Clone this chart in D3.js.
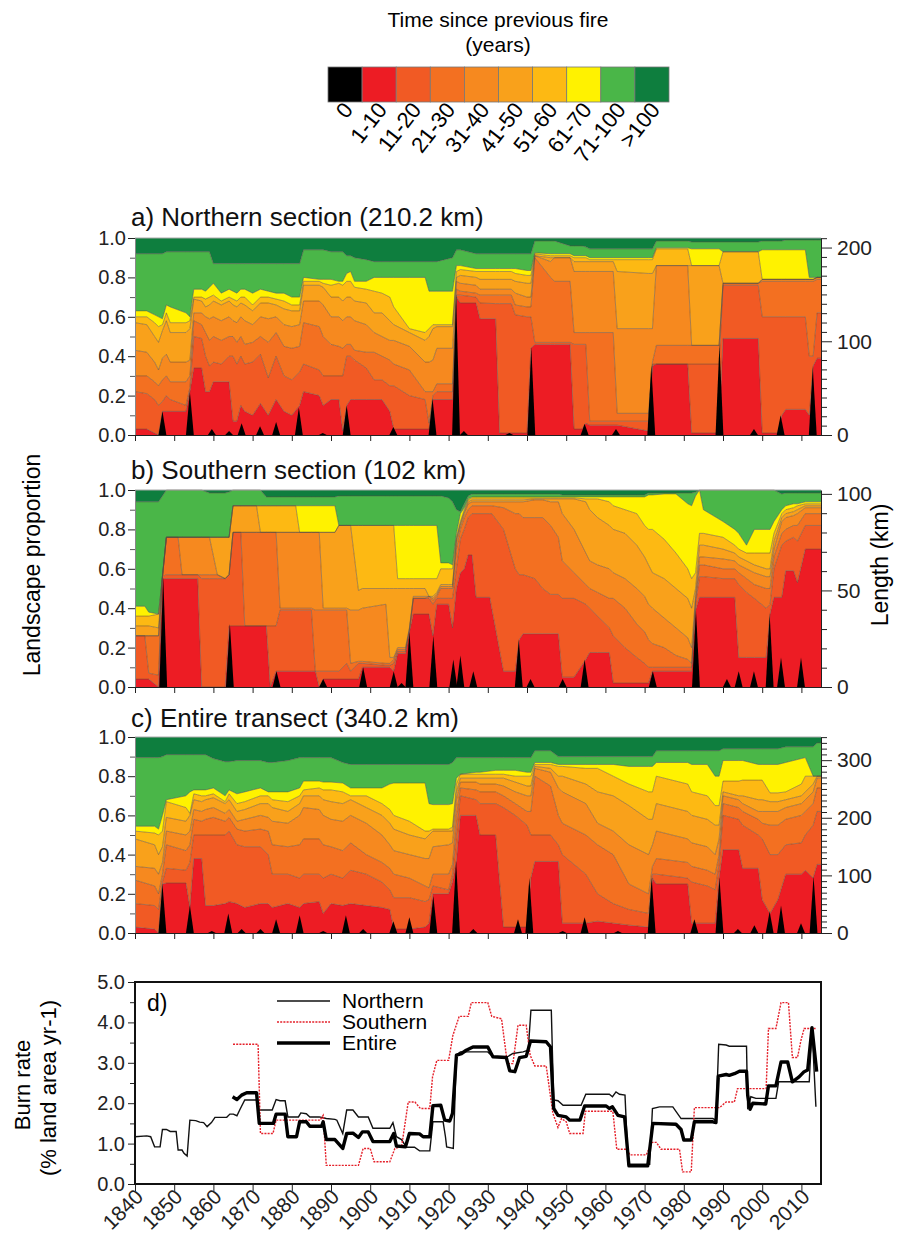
<!DOCTYPE html>
<html>
<head>
<meta charset="utf-8">
<script src="https://cdn.jsdelivr.net/npm/d3@7"></script>
<style>
  body { margin: 0; background: #fff; }
  svg { font-family: "Liberation Sans", Arial, sans-serif; }
</style>
</head>
<body>
<svg id="fig" width="906" height="1239"></svg>
<script>
// ---- legend classes ----
var classLabels = ["0", "1-10", "11-20", "21-30", "31-40", "41-50", "51-60", "61-70", "71-100", ">100"];
var classColors = ["#000000", "#ed1c24", "#f15a24", "#f37021", "#f6891f", "#f9a11b", "#fdb913", "#fff200", "#4ab648", "#0e7e3e"];

// ---- stacked panels: [year, top of 1-10, 11-20, 21-30, 31-40, 41-50, 51-60, 61-70, 71-100] ----
var northRows = [
  [1840,.03,.22,.30,.43,.57,.60,.63,.92],[1843,.03,.21,.30,.42,.56,.60,.63,.92],
  [1845,.01,.18,.27,.37,.50,.57,.61,.92],[1846,.00,.15,.25,.33,.47,.55,.60,.92],
  [1847,.12,.17,.28,.39,.53,.56,.59,.92],[1848,.12,.20,.30,.41,.58,.62,.66,.93],
  [1849,.12,.18,.27,.37,.52,.57,.65,.93],[1853,.12,.15,.27,.37,.52,.57,.62,.93],
  [1854,.22,.24,.30,.38,.54,.58,.60,.93],[1855,.34,.50,.58,.62,.69,.70,.74,.93],
  [1857,.34,.49,.56,.62,.68,.70,.74,.93],[1858,.22,.40,.52,.60,.65,.69,.73,.93],
  [1859,.22,.35,.48,.59,.66,.70,.75,.93],[1860,.27,.37,.50,.60,.68,.71,.77,.87],
  [1862,.27,.36,.48,.58,.66,.68,.72,.87],[1864,.27,.40,.50,.60,.68,.70,.74,.87],
  [1865,.07,.40,.50,.58,.66,.69,.73,.87],[1866,.07,.36,.47,.57,.65,.68,.72,.87],
  [1867,.15,.40,.50,.60,.67,.70,.74,.87],[1868,.12,.36,.46,.58,.66,.70,.74,.87],
  [1870,.10,.37,.47,.56,.63,.66,.72,.87],[1872,.16,.41,.50,.60,.67,.70,.74,.87],
  [1874,.10,.29,.47,.59,.67,.70,.73,.87],[1876,.18,.40,.52,.60,.66,.69,.72,.87],
  [1878,.12,.30,.45,.56,.64,.68,.72,.87],[1880,.10,.28,.44,.55,.63,.66,.70,.87],
  [1882,.15,.32,.45,.56,.63,.66,.70,.87],[1883,.22,.36,.57,.68,.76,.78,.80,.94],
  [1887,.20,.33,.55,.68,.76,.78,.79,.94],[1888,.15,.30,.50,.66,.75,.77,.79,.94],
  [1890,.18,.30,.46,.60,.70,.76,.79,.93],[1892,.18,.30,.45,.60,.70,.77,.78,.93],
  [1893,.02,.30,.44,.58,.68,.76,.78,.93],[1894,.15,.40,.46,.60,.70,.78,.82,.91],
  [1895,.18,.40,.46,.60,.70,.78,.83,.91],[1896,.18,.38,.43,.58,.68,.75,.78,.90],
  [1899,.18,.34,.42,.56,.67,.74,.78,.89],[1901,.18,.28,.42,.52,.62,.73,.80,.88],
  [1903,.18,.28,.40,.50,.62,.72,.80,.88],[1905,.12,.25,.38,.48,.58,.70,.80,.88],
  [1906,.03,.25,.36,.48,.56,.65,.80,.88],[1910,.03,.20,.33,.45,.52,.54,.80,.88],
  [1914,.03,.18,.22,.37,.48,.52,.80,.88],[1915,.03,.06,.22,.37,.50,.54,.73,.88],
  [1916,.18,.20,.22,.38,.54,.56,.73,.88],[1917,.18,.22,.26,.44,.55,.56,.73,.88],
  [1921,.18,.22,.26,.44,.55,.56,.73,.90],[1922,.70,.71,.74,.78,.80,.83,.86,.94],
  [1923,.67,.71,.73,.77,.81,.84,.86,.94],[1927,.67,.70,.72,.76,.80,.83,.845,.92],
  [1928,.59,.67,.71,.74,.79,.83,.845,.92],[1932,.59,.667,.71,.74,.79,.83,.845,.92],
  [1933,.01,.667,.71,.74,.79,.83,.845,.92],[1936,.01,.667,.71,.74,.79,.83,.845,.92],
  [1937,.01,.61,.66,.72,.78,.82,.845,.92],[1940,.01,.60,.65,.70,.77,.81,.835,.92],
  [1941,.44,.60,.65,.70,.77,.81,.835,.92],[1942,.46,.47,.90,.91,.91,.92,.925,.985],
  [1946,.46,.47,.80,.88,.90,.91,.92,.985],[1947,.46,.47,.78,.90,.90,.91,.92,.985],
  [1951,.46,.47,.78,.90,.90,.91,.92,.96],[1952,.03,.46,.52,.83,.88,.90,.91,.96],
  [1954,.03,.46,.52,.83,.88,.90,.91,.96],[1955,.06,.46,.52,.83,.88,.90,.91,.955],
  [1956,.05,.07,.52,.83,.88,.89,.90,.945],[1962,.05,.07,.52,.83,.88,.89,.90,.945],
  [1963,.05,.07,.11,.54,.83,.89,.90,.945],[1971,.02,.07,.11,.54,.82,.89,.90,.945],
  [1972,.35,.36,.37,.54,.82,.89,.90,.945],[1973,.36,.36,.455,.86,.86,.945,.95,.985],
  [1981,.36,.36,.455,.86,.86,.945,.95,.985],[1982,.01,.36,.455,.455,.86,.86,.945,.98],
  [1989,.01,.36,.455,.455,.86,.86,.945,.98],[1990,.49,.76,.77,.77,.77,.93,.93,.98],
  [1999,.49,.76,.77,.77,.77,.93,.93,.98],[2000,.01,.60,.78,.79,.79,.79,.94,.985],
  [2004,.01,.60,.78,.79,.79,.79,.94,.985],[2005,.10,.60,.78,.79,.79,.79,.94,.985],
  [2006,.13,.60,.78,.79,.79,.79,.94,.99],[2011,.13,.60,.78,.79,.79,.79,.94,.99],
  [2012,.10,.40,.78,.79,.79,.79,.80,.99],[2013,.35,.40,.78,.79,.79,.79,.80,.99],
  [2014,.39,.62,.79,.80,.80,.80,.80,.99],[2015,.39,.62,.79,.80,.80,.80,.80,.99]
];
var northFires = [[1847,.12],[1854,.22],[1859.6,.03],[1864,.02],[1867.2,.06],[1871.9,.045],[1876,.066],
  [1881.8,.14],[1887.9,.01],[1894,.15],[1905.9,.04],[1915.9,.185],[1921.9,.71],[1923.9,.02],
  [1935.5,.01],[1941.1,.447],[1954.7,.057],[1962.7,.03],[1971.7,.354],[1989.1,.46],[1997.9,.03],
  [2004.7,.10],[2012.9,.345]];

var southRows = [
  [1840,.04,.26,.26,.26,.31,.36,.41,.94],[1842.5,.04,.26,.26,.26,.31,.36,.41,.94],
  [1843.5,.04,.07,.26,.26,.31,.36,.38,.94],[1846,.00,.06,.26,.26,.30,.37,.37,.94],
  [1847,.55,.56,.56,.56,.56,.56,.56,.97],[1848,.55,.57,.76,.76,.76,.76,.76,1],
  [1851,.55,.57,.76,.76,.76,.76,.76,1],[1852,.55,.57,.57,.76,.76,.76,.76,1],
  [1856,.55,.57,.57,.76,.76,.76,.76,1],[1857,.00,.55,.57,.76,.76,.76,.76,1],
  [1859,.00,.55,.57,.76,.76,.76,.76,.985],[1861,.00,.55,.57,.57,.76,.76,.76,.985],
  [1863,.00,.55,.55,.55,.76,.76,.76,.985],[1864,.31,.57,.57,.57,.76,.76,.76,.99],
  [1865,.31,.785,.785,.785,.92,.92,.92,1],[1867,.31,.785,.785,.785,.92,.92,.92,1],
  [1868,.31,.31,.785,.785,.92,.92,.92,1],[1871,.31,.31,.785,.785,.92,.92,.92,1],
  [1872,.31,.31,.785,.785,.785,.92,.92,1],[1873.5,.31,.31,.785,.785,.785,.92,.92,.965],
  [1874.5,.00,.31,.785,.785,.785,.92,.92,.965],[1876,.08,.31,.785,.785,.785,.92,.92,.965],
  [1877,.08,.39,.40,.785,.785,.92,.92,.965],[1881,.08,.39,.40,.785,.785,.92,.92,.965],
  [1882,.08,.39,.40,.785,.785,.785,.92,.965],[1885,.08,.39,.40,.785,.785,.785,.92,.965],
  [1886,.08,.08,.39,.785,.785,.785,.92,.965],[1887,.00,.08,.39,.785,.785,.785,.92,.965],
  [1888,.04,.08,.39,.40,.785,.785,.92,.965],[1891,.04,.08,.39,.40,.785,.785,.92,.965],
  [1892,.04,.08,.39,.40,.82,.82,.82,.97],[1894,.04,.12,.39,.40,.82,.82,.82,.97],
  [1895,.04,.08,.12,.39,.82,.82,.82,.97],[1897,.04,.12,.13,.39,.49,.82,.82,.97],
  [1898,.10,.12,.13,.40,.50,.82,.82,.97],[1904,.10,.11,.12,.42,.50,.82,.82,.97],
  [1905,.10,.11,.12,.15,.50,.82,.82,.97],[1906,.08,.12,.14,.15,.50,.82,.82,.97],
  [1907,.17,.18,.19,.20,.50,.55,.82,.97],[1909,.17,.18,.19,.20,.50,.55,.82,.97],
  [1910,.28,.29,.29,.30,.50,.55,.82,.97],[1911,.37,.45,.45,.46,.50,.55,.82,.97],
  [1914,.37,.45,.45,.46,.50,.55,.82,.97],[1915,.37,.45,.46,.46,.46,.55,.82,.97],
  [1916,.26,.42,.44,.45,.46,.55,.82,.97],[1917,.42,.45,.46,.47,.48,.55,.82,.97],
  [1918,.42,.45,.50,.51,.52,.60,.63,.97],[1920,.42,.45,.50,.51,.52,.60,.63,.96],
  [1921,.30,.45,.50,.51,.52,.60,.62,.94],[1922,.50,.60,.70,.74,.75,.76,.78,.90],
  [1923,.58,.75,.80,.82,.83,.84,.88,.89],[1924,.60,.80,.86,.88,.89,.90,.91,.93],
  [1925,.67,.86,.90,.93,.94,.95,.955,.97],[1926,.67,.88,.92,.94,.95,.96,.965,.98],
  [1927,.455,.88,.92,.94,.95,.96,.965,.98],[1930.5,.455,.88,.92,.94,.95,.96,.965,.98],
  [1931,.40,.88,.92,.94,.95,.96,.965,.98],[1934,.08,.80,.91,.94,.95,.96,.965,.98],
  [1937,.08,.60,.88,.94,.95,.96,.965,.98],[1938,.24,.57,.88,.94,.95,.96,.965,.98],
  [1939,.27,.57,.86,.94,.95,.96,.965,.98],[1942,.27,.55,.86,.95,.955,.96,.965,.98],
  [1944,.27,.50,.86,.95,.955,.96,.965,.98],[1946,.27,.47,.82,.94,.955,.96,.965,.98],
  [1948,.27,.47,.76,.94,.955,.96,.965,.98],[1949,.05,.45,.64,.88,.955,.96,.965,.975],
  [1952,.05,.45,.58,.80,.955,.96,.965,.975],[1955,.14,.42,.52,.68,.94,.955,.965,.975],
  [1956,.175,.40,.50,.64,.90,.955,.965,.975],[1958,.175,.36,.48,.62,.86,.955,.965,.975],
  [1961,.175,.30,.45,.60,.82,.94,.965,.975],[1962,.02,.26,.45,.58,.80,.92,.965,.975],
  [1965,.02,.20,.40,.55,.78,.90,.965,.975],[1968,.02,.15,.32,.50,.72,.88,.965,.975],
  [1970,.02,.12,.28,.46,.66,.82,.965,.975],[1971,.02,.10,.24,.42,.62,.80,.975,.985],
  [1972,.08,.10,.22,.40,.58,.80,.975,.985],[1975,.08,.10,.20,.35,.55,.75,.98,.985],
  [1978,.08,.10,.16,.30,.50,.68,.98,.985],[1981,.08,.10,.14,.25,.45,.60,.93,.985],
  [1982,.08,.10,.12,.20,.40,.55,.92,.985],[1983,.39,.42,.44,.46,.50,.58,.97,.99],
  [1984,.455,.56,.62,.66,.72,.78,1,1],[1985,.455,.56,.62,.66,.72,.78,.90,1],
  [1990,.455,.55,.60,.65,.70,.76,.84,1],[1993,.455,.55,.60,.64,.68,.72,.80,1],
  [1994,.15,.52,.58,.62,.66,.70,.78,1],[1996,.15,.48,.55,.60,.64,.68,.72,1],
  [1998,.15,.45,.52,.58,.62,.68,.80,1],[2001,.15,.40,.50,.56,.60,.68,.80,1],
  [2002,.37,.42,.50,.56,.60,.68,.80,1],[2003,.455,.60,.66,.70,.74,.78,.84,1],
  [2005,.455,.72,.78,.84,.86,.88,.90,.98],[2006,.59,.74,.80,.86,.88,.90,.92,.985],
  [2008,.59,.76,.82,.87,.89,.91,.93,.985],[2009,.53,.74,.82,.88,.90,.92,.93,.985],
  [2011,.70,.82,.88,.91,.92,.93,.94,.985],[2015,.70,.82,.88,.91,.92,.93,.94,.985]
];
var southFires = [[1847.2,.557],[1864.2,.32],[1876.1,.08],[1888,.04],[1898.2,.10],[1906,.08],[1908,.02],
  [1910,.28],[1916.1,.26],[1921.2,.14],[1923,.16],[1926.3,.08],[1937.9,.24],[1940.9,.04],[1949.1,.04],
  [1954.7,.14],[1972.1,.08],[1983.1,.39],[1991,.04],[1994,.08],[1997.9,.08],[2001.9,.37],
  [2004.8,.15],[2009.9,.15]];

var entireRows = [
  [1840,.03,.15,.27,.34,.48,.52,.545,.895],[1845,.02,.14,.24,.33,.45,.51,.545,.895],
  [1846,.00,.12,.20,.30,.40,.50,.53,.895],[1847,.25,.26,.30,.36,.44,.52,.60,.90],
  [1848,.255,.33,.45,.52,.59,.67,.68,.91],[1853,.255,.32,.42,.50,.57,.64,.70,.91],
  [1854,.13,.36,.45,.52,.60,.61,.72,.91],[1855,.38,.50,.58,.63,.68,.71,.73,.91],
  [1857,.38,.50,.57,.62,.67,.70,.73,.91],[1858,.14,.50,.58,.63,.68,.70,.73,.91],
  [1860,.14,.50,.59,.64,.69,.71,.74,.89],[1863,.15,.50,.57,.61,.66,.67,.70,.874],
  [1864,.16,.52,.59,.63,.68,.71,.73,.874],[1866,.15,.45,.53,.57,.62,.66,.71,.88],
  [1868,.13,.44,.52,.58,.63,.67,.72,.88],[1872,.15,.44,.53,.60,.66,.70,.74,.88],
  [1874,.15,.40,.52,.59,.66,.70,.72,.87],[1875,.13,.30,.45,.57,.64,.68,.72,.87],
  [1879,.15,.30,.44,.56,.62,.67,.72,.88],[1882,.13,.28,.45,.60,.66,.70,.74,.895],
  [1883,.15,.30,.48,.64,.70,.73,.775,.895],[1887,.16,.30,.48,.63,.70,.74,.775,.895],
  [1888,.10,.28,.45,.60,.68,.73,.77,.895],[1890,.15,.30,.44,.58,.67,.73,.77,.895],
  [1893,.14,.28,.42,.57,.66,.72,.765,.87],[1895,.15,.32,.46,.60,.68,.70,.74,.86],
  [1899,.14,.30,.40,.56,.64,.70,.74,.86],[1903,.13,.26,.36,.50,.60,.66,.74,.86],
  [1905,.12,.22,.33,.45,.56,.63,.76,.86],[1906,.02,.18,.30,.42,.53,.60,.765,.86],
  [1910,.02,.18,.28,.40,.50,.57,.765,.86],[1914,.03,.16,.24,.38,.48,.52,.765,.86],
  [1915,.05,.17,.23,.38,.50,.52,.66,.86],[1916,.20,.24,.30,.44,.52,.53,.655,.86],
  [1920,.20,.22,.30,.45,.52,.53,.655,.86],[1921,.26,.30,.35,.46,.52,.54,.66,.87],
  [1922,.37,.50,.60,.68,.72,.76,.79,.895],[1923,.60,.70,.74,.77,.79,.81,.81,.895],
  [1927,.60,.68,.73,.77,.79,.81,.82,.895],[1928,.50,.66,.72,.76,.79,.81,.82,.895],
  [1932,.50,.66,.72,.76,.79,.81,.83,.895],[1934,.03,.64,.70,.75,.79,.81,.83,.895],
  [1937,.03,.60,.66,.72,.77,.80,.83,.895],[1940,.03,.55,.62,.70,.75,.80,.82,.895],
  [1941,.28,.50,.62,.70,.75,.80,.82,.895],[1942,.365,.50,.80,.84,.85,.86,.87,.93],
  [1946,.365,.50,.75,.82,.84,.86,.87,.93],[1948,.365,.45,.60,.74,.80,.85,.86,.90],
  [1949,.05,.40,.56,.72,.80,.85,.86,.90],[1955,.05,.30,.50,.66,.76,.84,.86,.90],
  [1958,.06,.20,.45,.56,.72,.84,.86,.90],[1962,.05,.15,.40,.52,.70,.80,.86,.90],
  [1966,.04,.12,.25,.45,.65,.76,.85,.90],[1971,.03,.10,.20,.40,.58,.72,.85,.90],
  [1972,.28,.30,.34,.45,.58,.72,.85,.90],[1973,.25,.30,.38,.52,.66,.80,.87,.93],
  [1981,.25,.28,.36,.48,.62,.76,.87,.93],[1982,.05,.26,.34,.46,.60,.72,.86,.93],
  [1986,.05,.24,.32,.44,.58,.70,.86,.93],[1988,.05,.22,.30,.40,.55,.65,.80,.93],
  [1989,.28,.35,.40,.48,.55,.65,.80,.93],[1990,.425,.60,.66,.70,.72,.775,.88,.94],
  [1994,.425,.58,.64,.68,.70,.775,.88,.94],[1995,.33,.55,.62,.66,.70,.78,.88,.94],
  [1999,.33,.50,.58,.62,.68,.78,.86,.94],[2000,.17,.48,.56,.62,.68,.78,.86,.94],
  [2002,.10,.40,.55,.62,.67,.715,.86,.94],[2004,.17,.40,.55,.62,.67,.715,.86,.94],
  [2006,.30,.45,.58,.64,.68,.72,.87,.95],[2010,.30,.46,.60,.66,.70,.76,.89,.95],
  [2011,.32,.50,.62,.68,.72,.80,.895,.95],[2013,.28,.55,.66,.72,.76,.80,.80,.95],
  [2014,.35,.62,.74,.79,.80,.80,.80,.97],[2015,.35,.62,.74,.79,.80,.80,.80,.97]
];
var entireFires = [[1847,.25],[1854,.14],[1859.6,.01],[1863.8,.10],[1867.2,.02],[1872,.02],[1876,.07],
  [1882,.09],[1888,.01],[1893.8,.09],[1898.2,.02],[1905.9,.06],[1910,.08],[1916.1,.19],[1921.9,.37],
  [1926.3,.02],[1937.7,.07],[1940.6,.28],[1949.1,.01],[1954.7,.08],[1963.2,.01],[1971.8,.28],
  [1982.7,.07],[1989.1,.28],[1993.8,.02],[1998,.04],[2001.9,.11],[2004.8,.14],[2009.9,.05],[2013.1,.29]];

// ---- burn rate (% land area per year) ----
var northRate = [[1840,1.17],[1843,1.19],[1844,1.17],[1845,0.92],[1846.4,0.92],[1847,1.35],[1848,1.35],
  [1849,1.30],[1850.5,1.30],[1851,0.84],[1852,0.84],[1852.5,0.76],[1853.3,0.69],[1854,1.58],[1855.5,1.57],
  [1856.5,1.53],[1857.5,1.52],[1858.4,1.42],[1859.5,1.52],[1860.4,1.65],[1863.4,1.65],[1864.2,1.73],
  [1865.1,1.73],[1866,1.69],[1866.8,1.85],[1868,2.08],[1871,2.08],[1871.7,1.83],[1875,1.83],[1876,2.09],
  [1877,2.06],[1878.3,2.06],[1879,1.66],[1881.7,1.66],[1882.3,1.76],[1883.7,1.74],[1884.6,1.66],[1887,1.66],
  [1888.8,1.62],[1891,1.60],[1891.5,1.58],[1893,1.25],[1894,1.83],[1895.6,1.83],[1897,1.66],[1899.5,1.66],
  [1900.7,1.38],[1905,1.38],[1905.8,1.52],[1906.7,1.17],[1908,1.10],[1909.2,0.91],[1911.3,0.91],
  [1912.6,0.82],[1915.2,0.82],[1916,1.54],[1918.6,1.54],[1919.2,1.17],[1919.5,0.92],[1921.2,0.88],
  [1922,3.19],[1923,3.27],[1930,3.27],[1931.3,3.15],[1935,3.15],[1936.4,3.23],[1939,3.27],[1940.3,3.31],
  [1941,4.30],[1946.2,4.30],[1946.8,2.08],[1947.9,2.06],[1949.2,1.95],[1953.8,1.95],[1955,2.22],[1961,2.22],
  [1961.8,2.16],[1962.7,2.28],[1963.6,2.22],[1965,2.20],[1965.8,0.49],[1971.3,0.49],[1972,1.87],
  [1973.8,1.91],[1977.2,1.91],[1979.3,1.62],[1987.4,1.62],[1988.2,1.58],[1988.9,3.46],[1990.8,3.44],
  [1991.6,3.41],[1996,3.41],[1996.3,1.85],[1997.1,2.16],[1998.4,2.12],[2003.5,2.12],[2004.2,2.53],
  [2012,2.53],[2012.7,3.87],[2013.7,1.91]];
var southRate = [[1865,3.46],[1871.4,3.46],[1872,1.25],[1875.2,1.25],[1876,1.58],[1887.2,1.58],[1888,1.70],
  [1888.8,0.46],[1897,0.46],[1898.2,0.88],[1900,0.88],[1901,0.55],[1905,0.55],[1906.3,0.88],[1908,0.92],
  [1909.7,2.03],[1911.4,2.03],[1912.8,1.87],[1915.2,1.87],[1915.9,2.65],[1917,3.06],[1920,3.06],
  [1921.1,3.68],[1922.7,4.15],[1925,4.15],[1925.8,4.49],[1930,4.49],[1931,4.15],[1933.5,4.09],[1935,2.98],
  [1936.4,2.98],[1937.7,3.93],[1939.8,3.93],[1940.8,3.19],[1942,2.92],[1944.9,2.92],[1946.6,1.75],
  [1947.9,1.40],[1948.8,1.62],[1950,1.54],[1950.9,1.25],[1954.3,1.25],[1954.9,1.80],[1961.9,1.80],
  [1962.9,0.86],[1965.3,0.86],[1966.3,0.72],[1970.4,0.72],[1971.9,1.03],[1973,1.03],[1974.2,0.86],
  [1978.9,0.86],[1979.7,0.30],[1981.9,0.30],[1982.7,1.89],[1989.1,1.89],[1990.8,2.03],[1992.9,2.03],
  [1993.7,2.36],[2001,2.36],[2001.6,3.85],[2003.5,3.85],[2004.8,4.49],[2006.7,4.49],[2007.7,3.13],
  [2009,3.13],[2009.9,3.56],[2010.7,3.85],[2013.7,3.85]];
var entireRate = [[1864.9,2.16],[1866,2.09],[1867.2,2.20],[1868.5,2.26],[1871,2.26],[1871.7,1.50],
  [1875.3,1.50],[1876,1.73],[1878.3,1.73],[1879,1.17],[1881.2,1.17],[1882,1.54],[1883.7,1.54],[1884.6,1.43],
  [1887.6,1.43],[1888,1.54],[1888.8,1.10],[1891,1.10],[1893,0.88],[1894,1.25],[1895.6,1.26],[1897,1.15],
  [1898,1.29],[1899.5,1.29],[1900.7,1.05],[1905,1.05],[1906,1.25],[1906.7,0.94],[1909,0.92],[1910,1.25],
  [1912.6,1.24],[1913.5,1.17],[1915.2,1.17],[1916,1.94],[1918,1.95],[1919,1.58],[1920.3,1.56],[1921,1.75],
  [1922,3.19],[1923.3,3.23],[1924.5,3.31],[1926.2,3.39],[1930,3.39],[1931.3,3.15],[1934.7,3.13],
  [1935.6,2.80],[1936.9,2.78],[1938.1,3.13],[1939.8,3.16],[1940.9,3.54],[1944.9,3.52],[1946,3.39],
  [1946.8,1.87],[1947.9,1.70],[1950,1.66],[1950.9,1.58],[1953.5,1.58],[1954.7,1.93],[1960.2,1.93],
  [1961,1.87],[1961.8,1.91],[1963.2,1.70],[1964.9,1.66],[1966,0.45],[1970.8,0.45],[1972.1,1.50],
  [1978,1.48],[1979.3,1.35],[1980,1.09],[1981.9,1.09],[1982.7,1.54],[1987.4,1.54],[1988.2,1.52],
  [1988.8,2.67],[1990.8,2.71],[1991.6,2.69],[1992.9,2.73],[1994.2,2.79],[1996,2.79],[1996.3,2.20],
  [1996.9,1.85],[1997.6,2.00],[2000.9,1.98],[2001.6,2.43],[2003.5,2.43],[2004.8,3.02],[2006.5,3.02],
  [2007.7,2.53],[2009.4,2.65],[2010.7,2.78],[2011.6,2.82],[2012.7,3.87],[2013.9,2.78]];

// ---- tick labels ----
var yearTicks = d3.range(1840, 2011, 10);
var propTicks = [0, 0.2, 0.4, 0.6, 0.8, 1.0];
var rateTicks = [0, 1, 2, 3, 4, 5];

var svg = d3.select("#fig");
var x = d3.scaleLinear().domain([1840, 2015]).range([135, 821]);

// ---------- legend ----------
var leg = svg.append("g");
leg.append("text").attr("x", 498).attr("y", 27).attr("text-anchor", "middle")
  .attr("font-size", 21).text("Time since previous fire");
leg.append("text").attr("x", 498).attr("y", 52).attr("text-anchor", "middle")
  .attr("font-size", 21).text("(years)");
var band = d3.scaleBand().domain(classLabels).range([328, 669]);
leg.selectAll("rect").data(classLabels).enter().append("rect")
  .attr("x", function(d){ return band(d); })
  .attr("y", 67).attr("width", band.bandwidth()).attr("height", 35)
  .attr("fill", function(d, i){ return classColors[i]; })
  .attr("stroke", "#777").attr("stroke-width", 0.8);
leg.selectAll("text.cl").data(classLabels).enter().append("text")
  .attr("class", "cl")
  .attr("transform", function(d){ return "translate(" + (band(d) + band.bandwidth() / 2 + 9) + ",110) rotate(-52)"; })
  .attr("text-anchor", "end").attr("font-size", 22).text(function(d){ return d; });

// ---------- stacked panels ----------
var panels = [
  { rows: northRows, fires: northFires, km: 210.2, kmLabels: [0, 100, 200], top: 238, bottom: 435, title: "a) Northern section (210.2 km)", ty: 226 },
  { rows: southRows, fires: southFires, km: 102, kmLabels: [0, 50, 100], top: 490, bottom: 687, title: "b) Southern section (102 km)", ty: 479 },
  { rows: entireRows, fires: entireFires, km: 340.2, kmLabels: [0, 100, 200, 300], top: 737, bottom: 933, title: "c) Entire transect (340.2 km)", ty: 727 }
];

function styleAxis(sel, size) {
  sel.attr("font-size", size).attr("font-family", null);
  sel.selectAll("text").attr("fill", "#222");
  sel.selectAll("line").attr("stroke", "#222");
}

panels.forEach(function(p) {
  var y = d3.scaleLinear().domain([0, 1]).range([p.bottom, p.top]);
  var g = svg.append("g");

  for (var k = 1; k <= 9; k++) {
    (function(k) {
      var area = d3.area()
        .x(function(d){ return x(d[0]); })
        .y0(function(d){ return y(k === 1 ? 0 : d[k - 1]); })
        .y1(function(d){ return y(k === 9 ? 1 : d[k]); });
      g.append("path").datum(p.rows).attr("d", area).attr("fill", classColors[k]);
    })(k);
  }
  for (var k = 1; k <= 8; k++) {
    (function(k) {
      var line = d3.line().x(function(d){ return x(d[0]); }).y(function(d){ return y(d[k]); });
      g.append("path").datum(p.rows).attr("d", line)
        .attr("fill", "none").attr("stroke", "#5a4a40").attr("stroke-width", 0.6).attr("opacity", 0.85);
    })(k);
  }
  // black spikes: fire years (burned this year), zero the years either side
  p.fires.forEach(function(f) {
    var pts = [[f[0] - 1, 0], [f[0], f[1]], [f[0] + 1, 0]];
    g.append("path").datum(pts)
      .attr("d", d3.area().x(function(d){ return x(d[0]); }).y0(y(0)).y1(function(d){ return y(d[1]); }))
      .attr("fill", "#000");
  });

  g.append("line").attr("x1", 135).attr("x2", 821).attr("y1", p.top).attr("y2", p.top)
    .attr("stroke", "#aaa").attr("stroke-width", 1);

  // left axis
  var ax = g.append("g").attr("transform", "translate(135,0)")
    .call(d3.axisLeft(y).tickValues(propTicks).tickFormat(d3.format(".1f")).tickSize(7).tickPadding(2));
  ax.select(".domain").attr("stroke", "#888");
  styleAxis(ax, 20);
  var axm = g.append("g").attr("transform", "translate(135,0)")
    .call(d3.axisLeft(y).tickValues(d3.range(0.1, 1, 0.2)).tickFormat("").tickSize(5));
  axm.select(".domain").remove();
  axm.selectAll("line").attr("stroke", "#555");

  // bottom axis
  var bx = g.append("g").attr("transform", "translate(0," + p.bottom + ")")
    .call(d3.axisBottom(x).tickValues(yearTicks).tickFormat("").tickSize(6).tickSizeOuter(0));
  bx.select(".domain").attr("stroke", "#222");
  bx.selectAll("line").attr("stroke", "#222");

  // right axis (km)
  var yk = d3.scaleLinear().domain([0, p.km]).range([p.bottom, p.top]);
  var rx = g.append("g").attr("transform", "translate(821,0)")
    .call(d3.axisRight(yk).tickValues(p.kmLabels).tickFormat(d3.format("d")).tickSize(11).tickPadding(5).tickSizeOuter(0));
  rx.select(".domain").attr("stroke", "#222");
  styleAxis(rx, 21);
  var rxm = g.append("g").attr("transform", "translate(821,0)")
    .call(d3.axisRight(yk).tickValues(d3.range(10, p.km, 10).filter(function(v){ return p.kmLabels.indexOf(v) < 0; }))
      .tickFormat("").tickSize(6));
  rxm.select(".domain").remove();
  rxm.selectAll("line").attr("stroke", "#222");

  g.append("text").attr("x", 131).attr("y", p.ty).attr("font-size", 26).attr("fill", "#111").text(p.title);
});

svg.append("text").attr("transform", "translate(40,565) rotate(-90)").attr("text-anchor", "middle")
  .attr("font-size", 23).text("Landscape proportion");
svg.append("text").attr("transform", "translate(888,565) rotate(-90)").attr("text-anchor", "middle")
  .attr("font-size", 23).text("Length (km)");

// ---------- panel d: burn rate ----------
var yr = d3.scaleLinear().domain([0, 5]).range([1184, 982]);
var gd = svg.append("g");
var lineR = d3.line().x(function(d){ return x(d[0]); }).y(function(d){ return yr(d[1]); });

gd.append("path").datum(northRate).attr("d", lineR).attr("fill", "none")
  .attr("stroke", "#111").attr("stroke-width", 1.4);
gd.append("path").datum(southRate).attr("d", lineR).attr("fill", "none")
  .attr("stroke", "#e5202a").attr("stroke-width", 1.4).attr("stroke-dasharray", "2,1.2");
gd.append("path").datum(entireRate).attr("d", lineR).attr("fill", "none")
  .attr("stroke", "#000").attr("stroke-width", 3.4).attr("stroke-linejoin", "round");

var dax = gd.append("g").attr("transform", "translate(135,0)")
  .call(d3.axisLeft(yr).tickValues(rateTicks).tickFormat(d3.format(".1f")).tickSize(7).tickPadding(3));
dax.select(".domain").remove();
styleAxis(dax, 20);
var daxm = gd.append("g").attr("transform", "translate(135,0)")
  .call(d3.axisLeft(yr).tickValues(d3.range(0.5, 5, 1)).tickFormat("").tickSize(5));
daxm.select(".domain").remove();
daxm.selectAll("line").attr("stroke", "#222");

var dbx = gd.append("g").attr("transform", "translate(0,1184)")
  .call(d3.axisBottom(x).tickValues(yearTicks).tickFormat(d3.format("d")).tickSize(7));
dbx.select(".domain").remove();
styleAxis(dbx, 21);
dbx.selectAll("text").attr("text-anchor", "end").attr("dy", null).attr("y", 0)
  .attr("transform", "translate(9,14) rotate(-45)");

gd.append("rect").attr("x", 135).attr("y", 982).attr("width", 686).attr("height", 202)
  .attr("fill", "none").attr("stroke", "#111").attr("stroke-width", 2);
gd.append("text").attr("x", 147).attr("y", 1011).attr("font-size", 23).text("d)");

var legItems = [["Northern", "#111", 1.4, null, 1001], ["Southern", "#e5202a", 1.4, "2,1.2", 1022], ["Entire", "#000", 3.4, null, 1043]];
legItems.forEach(function(l) {
  gd.append("line").attr("x1", 277).attr("x2", 330).attr("y1", l[4]).attr("y2", l[4])
    .attr("stroke", l[1]).attr("stroke-width", l[2]).attr("stroke-dasharray", l[3]);
  gd.append("text").attr("x", 342).attr("y", l[4] + 7).attr("font-size", 21).text(l[0]);
});

svg.append("text").attr("transform", "translate(30,1085) rotate(-90)").attr("text-anchor", "middle")
  .attr("font-size", 22).text("Burn rate");
svg.append("text").attr("transform", "translate(56,1088) rotate(-90)").attr("text-anchor", "middle")
  .attr("font-size", 22).text("(% land area yr-1)");
</script>
</body>
</html>
